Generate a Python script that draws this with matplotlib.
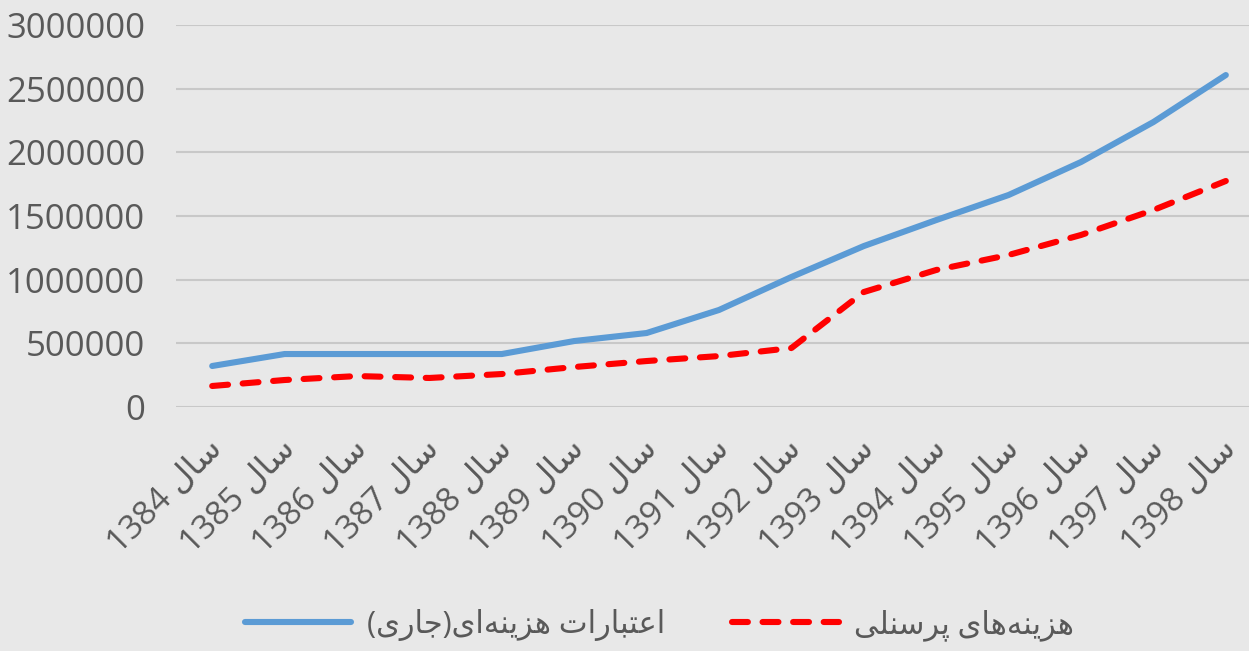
import matplotlib
matplotlib.use("Agg")
import matplotlib.pyplot as plt
import matplotlib.transforms as mtransforms

# ─── Data ───────────────────────────────────────────────────────────────────
years = ["1384", "1385", "1386", "1387", "1388", "1389", "1390", "1391",
         "1392", "1393", "1394", "1395", "1396", "1397", "1398"]
current_credits = [322000, 416000, 416000, 416000, 416000, 518000, 581000, 762000,
                   1021000, 1264000, 1468000, 1665000, 1924000, 2238000, 2607000]
personnel_costs = [165000, 212000, 243000, 228000, 259000, 314000, 361000, 400000,
                   463000, 903000, 1076000, 1194000, 1351000, 1547000, 1775000]
y_ticks = [0, 500000, 1000000, 1500000, 2000000, 2500000, 3000000]

# Persian text, hand-shaped into presentation forms (matplotlib does no
# Arabic shaping / bidi), stored in visual left-to-right order.
WORD_SAL = "\uFEDD\uFE8E\uFEB3"                       # سال
label_credits = ("(" + "\uFEEF\uFEAD\uFE8E\uFE9F" + ")"   # (جاری)
                 + "\uFEEF\uFE8D\uFEEA\uFEE8\uFEF3\uFEB0\uFEEB"   # هزینه‌ای
                 + " " + "\uFE95\uFE8D\uFEAD\uFE8E\uFE92\uFE98\uFECB\uFE8D")  # اعتبارات
label_personnel = ("\uFEF0\uFEE0\uFEE8\uFEB3\uFEAE\uFB58"          # پرسنلی
                   + " " + "\uFEEF\uFE8E\uFEEB\uFEEA\uFEE8\uFEF3\uFEB0\uFEEB")  # هزینه‌های
tick_labels = [y + " " + WORD_SAL for y in years]

BG = "#e8e8e8"
GRID = "#c8c8c8"
TEXT = "#595959"
FONTS = ["Open Sans", "DejaVu Sans"]

plt.rcParams["font.family"] = FONTS

fig = plt.figure(figsize=(12.49, 6.51), dpi=100, facecolor=BG)
ax = fig.add_axes([176 / 1249, (651 - 407) / 651, 1 - 176 / 1249, (407 - 25) / 651])
ax.set_facecolor(BG)

x = list(range(len(years)))
ax.plot(x, current_credits, color="#5b9bd5", linewidth=4.4,
        solid_capstyle="round", label=label_credits, zorder=3)
ax.plot(x, personnel_costs, color="#ff0000", linewidth=4.4,
        linestyle=(0, (2.6, 2.4)), dash_capstyle="round",
        label=label_personnel, zorder=3)

ax.set_xlim(-0.5, 14.32)
ax.set_ylim(0, 3000000)
ax.set_yticks(y_ticks)
ax.set_yticklabels([str(v) for v in y_ticks])
ax.yaxis.grid(True, color=GRID, linewidth=1.5)
ax.set_axisbelow(True)
for s in ax.spines.values():
    s.set_visible(False)

ax.tick_params(axis="y", length=0, pad=22, labelsize=25, labelcolor=TEXT)
ax.tick_params(axis="x", length=0, labelsize=24, labelcolor=TEXT, pad=0)

# rotated category labels, nudged so they end just right of each point
ax.set_xticks(x)
ax.set_xticklabels(tick_labels, rotation=45, ha="right", va="top",
                   rotation_mode="anchor")
offset = mtransforms.ScaledTranslation(-0.06, -0.26, fig.dpi_scale_trans)
for lbl in ax.get_xticklabels():
    lbl.set_transform(lbl.get_transform() + offset)

leg = fig.legend(loc="lower center", bbox_to_anchor=(0.528, -0.027), ncol=2,
                 frameon=False, fontsize=22, handlelength=3.5,
                 columnspacing=2.2, handletextpad=0.5)
for t in leg.get_texts():
    t.set_color(TEXT)

fig.savefig("out.png", dpi=100, facecolor=BG)
